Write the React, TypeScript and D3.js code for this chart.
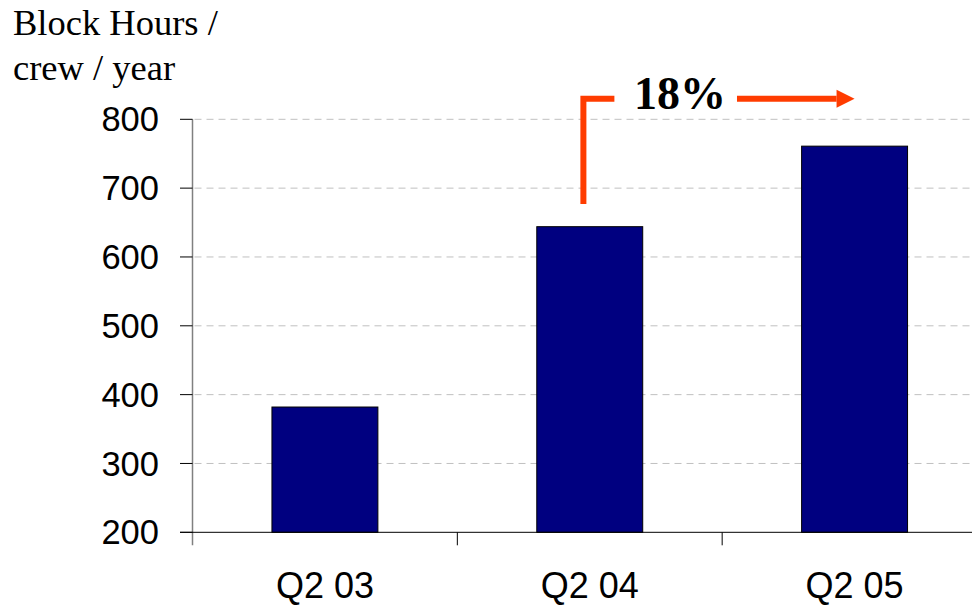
import React from "react";
import * as d3 from "d3";

const categories: string[] = ["Q2 03", "Q2 04", "Q2 05"];
const values: number[] = [382, 644, 761];
const yTicks: number[] = [200, 300, 400, 500, 600, 700, 800];
const titleLines: string[] = ["Block Hours /", "crew / year"];
const growthLabel = "18%";
const arrowFrom = "Q2 04";
const arrowTo = "Q2 05";
const arrowLow = 677;
const arrowHigh = 830;

const W = 972;
const H = 605;
const left = 192.5;
const right = 987;
const top = 119.3;
const bottom = 532.3;

export default function App() {
  const x = d3
    .scaleBand<string>()
    .domain(categories)
    .range([left, right])
    .paddingInner(0.6)
    .paddingOuter(0.3);
  const y = d3.scaleLinear().domain([200, 800]).range([bottom, top]);
  const step = x.step();
  const bw = x.bandwidth();
  const boundaries = d3.range(categories.length + 1).map((i) => left + i * step);

  const red = "#ff3c00";
  const ax = (x(arrowFrom) as number) + bw * 0.44;
  const bx = (x(arrowTo) as number) + bw / 2;
  const yHigh = y(arrowHigh);
  const yLow = y(arrowLow);
  const textX = (ax + bx) / 2 - 40;

  return (
    <svg
      width={W}
      height={H}
      style={{ position: "absolute", left: 0, top: 0, background: "#fff" }}
    >
      <g fontFamily="'Liberation Serif', 'Times New Roman', serif" fontSize={36.5} fill="#000">
        {titleLines.map((t, i) => (
          <text key={t} x={13} y={34.5 + i * 45.5}>
            {t}
          </text>
        ))}
      </g>

      {/* gridlines */}
      {yTicks.slice(1).map((t) => (
        <line
          key={"g" + t}
          x1={left + 2}
          x2={W}
          y1={y(t)}
          y2={y(t)}
          stroke="#c0c0c0"
          strokeWidth={1}
          strokeDasharray="7,5"
        />
      ))}

      {/* bars */}
      {categories.map((c, i) => (
        <rect
          key={c}
          x={x(c)}
          y={y(values[i])}
          width={bw}
          height={y(200) - y(values[i])}
          fill="#000080"
          stroke="#000"
          strokeWidth={1}
        />
      ))}

      {/* y axis */}
      <line x1={left} x2={left} y1={top} y2={bottom + 13} stroke="#808080" strokeWidth={1.5} />
      {yTicks.map((t) => (
        <g key={"y" + t}>
          <line x1={180} x2={left} y1={y(t)} y2={y(t)} stroke="#000" strokeWidth={1} />
          <text
            x={159}
            y={y(t)}
            dy="0.35em"
            textAnchor="end"
            fontFamily="'Liberation Sans', Arial, sans-serif"
            fontSize={34.5}
            fill="#000"
          >
            {t}
          </text>
        </g>
      ))}

      {/* x axis */}
      <line x1={180} x2={W} y1={bottom} y2={bottom} stroke="#000" strokeWidth={1} />
      {boundaries.slice(1).map((b, i) => (
        <line key={"xt" + i} x1={b} x2={b} y1={bottom} y2={bottom + 13} stroke="#000" strokeWidth={1} />
      ))}
      {categories.map((c) => (
        <text
          key={"xl" + c}
          x={(x(c) as number) + bw / 2}
          y={598}
          textAnchor="middle"
          fontFamily="'Liberation Sans', Arial, sans-serif"
          fontSize={36}
          fill="#000"
        >
          {c}
        </text>
      ))}

      {/* growth annotation */}
      <polyline
        points={`${ax},${yLow} ${ax},${yHigh} ${ax + 31},${yHigh}`}
        fill="none"
        stroke={red}
        strokeWidth={6}
      />
      <line x1={textX + 58} x2={bx - 18} y1={yHigh} y2={yHigh} stroke={red} strokeWidth={6} />
      <polygon
        points={`${bx - 18},${yHigh - 9} ${bx},${yHigh} ${bx - 18},${yHigh + 9}`}
        fill={red}
      />
      <text
        x={textX + 1}
        y={yHigh + 10.5}
        textAnchor="middle"
        fontFamily="'Liberation Serif', 'Times New Roman', serif"
        fontWeight="bold"
        fontSize={46}
        fill="#000"
      >
        {growthLabel}
      </text>
    </svg>
  );
}
